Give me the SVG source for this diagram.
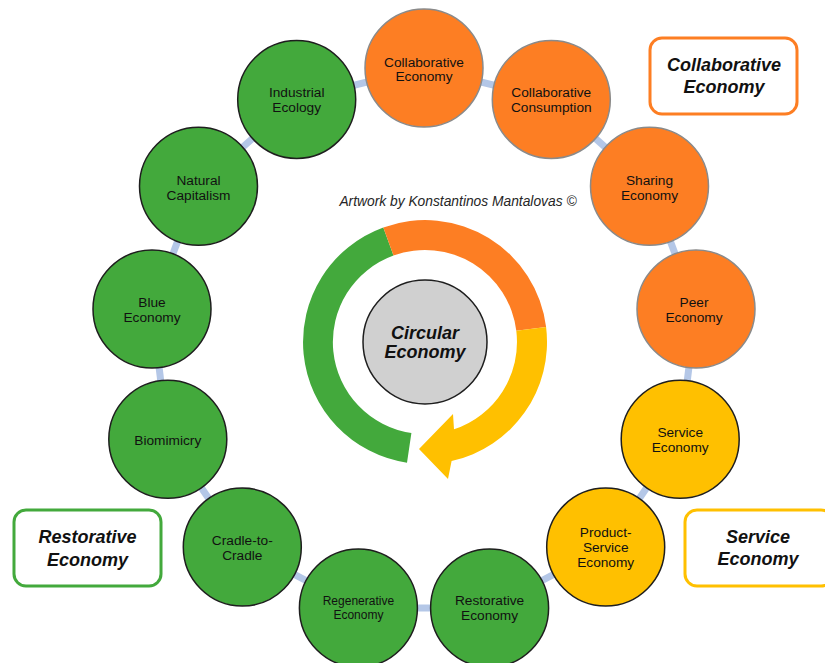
<svg xmlns="http://www.w3.org/2000/svg" width="825" height="663" viewBox="0 0 825 663">
<style>
.bg{fill:#ffffff}
.con line{stroke:#b4c7e7;stroke-width:7}
.g{fill:#43a93c;stroke:#1e1e1e;stroke-width:1.5}
.o{fill:#fd7e23;stroke:#8a8a8a;stroke-width:1.5}
.y{fill:#ffc000;stroke:#1e1e1e;stroke-width:1.5}
.t{font-family:"Liberation Sans",Arial,sans-serif;font-size:13.7px;fill:#111;text-anchor:middle}
.s{font-size:12px}
.lg{font-family:"Liberation Sans",Arial,sans-serif;font-size:18px;font-weight:bold;font-style:italic;fill:#111;text-anchor:middle}
.box{fill:#fff;stroke-width:3}
</style>
<rect class="bg" x="0" y="0" width="825" height="663"/>
<g id="connectors" class="con">
<line x1="424" y1="68" x2="551.3" y2="99.4"/>
<line x1="551.3" y1="99.4" x2="649.5" y2="186.3"/>
<line x1="649.5" y1="186.3" x2="696" y2="309"/>
<line x1="696" y1="309" x2="680.2" y2="439.2"/>
<line x1="680.2" y1="439.2" x2="605.7" y2="547.1"/>
<line x1="605.7" y1="547.1" x2="489.6" y2="608"/>
<line x1="489.6" y1="608" x2="358.4" y2="608"/>
<line x1="358.4" y1="608" x2="242.3" y2="547.1"/>
<line x1="242.3" y1="547.1" x2="167.8" y2="439.2"/>
<line x1="167.8" y1="439.2" x2="152" y2="309"/>
<line x1="152" y1="309" x2="198.5" y2="186.3"/>
<line x1="198.5" y1="186.3" x2="296.7" y2="99.4"/>
<line x1="296.7" y1="99.4" x2="424" y2="68"/>
</g>
<g id="ring">
<path fill="#43a93c" d="M 407 462.7 A 122 122 0 0 1 383.3 227.4 L 393.5 255.5 A 92 92 0 0 0 411.4 433 Z"/>
<path fill="#fd7e23" d="M 383.3 227.4 A 122 122 0 0 1 546.1 327.1 L 516.3 330.8 A 92 92 0 0 0 393.5 255.5 Z"/>
<path fill="#ffc000" d="M 546.1 327.1 A 122 122 0 0 1 451.6 461.1 L 448 479 L 419 449 L 453 414 L 454 429.3 A 92 92 0 0 0 516.3 330.8 Z"/>
</g>
<g id="center">
<circle cx="425" cy="342" r="62" fill="#d0d0d0" stroke="#1e1e1e" stroke-width="1.5"/>
<text class="lg" x="425" y="339">Circular</text>
<text class="lg" x="425" y="358">Economy</text>
</g>
<g id="credit">
<text x="458" y="206" font-family="'Liberation Sans',Arial,sans-serif" font-size="13.8" font-style="italic" fill="#262626" text-anchor="middle">Artwork by Konstantinos Mantalovas ©</text>
</g>
<g id="n-collaborative-economy"><circle class="o" cx="424" cy="68" r="59"/><text class="t" x="424" y="67">Collaborative</text><text class="t" x="424" y="81">Economy</text></g>
<g id="n-collaborative-consumption"><circle class="o" cx="551.3" cy="99.4" r="59"/><text class="t" x="551.3" y="97">Collaborative</text><text class="t" x="551.3" y="112">Consumption</text></g>
<g id="n-sharing-economy"><circle class="o" cx="649.5" cy="186.3" r="59"/><text class="t" x="649.5" y="185">Sharing</text><text class="t" x="649.5" y="200">Economy</text></g>
<g id="n-peer-economy"><circle class="o" cx="696" cy="309" r="59"/><text class="t" x="694" y="307">Peer</text><text class="t" x="694" y="322">Economy</text></g>
<g id="n-service-economy"><circle class="y" cx="680.2" cy="439.2" r="59"/><text class="t" x="680.2" y="437">Service</text><text class="t" x="680.2" y="452">Economy</text></g>
<g id="n-product-service-economy"><circle class="y" cx="605.7" cy="547.1" r="59"/><text class="t" x="605.7" y="537">Product-</text><text class="t" x="605.7" y="552">Service</text><text class="t" x="605.7" y="567">Economy</text></g>
<g id="n-restorative-economy"><circle class="g" cx="489.6" cy="608" r="59"/><text class="t" x="489.6" y="605">Restorative</text><text class="t" x="489.6" y="620">Economy</text></g>
<g id="n-regenerative-economy"><circle class="g" cx="358.4" cy="608" r="59"/><text class="t s" x="358.4" y="605">Regenerative</text><text class="t s" x="358.4" y="619">Economy</text></g>
<g id="n-cradle-to-cradle"><circle class="g" cx="242.3" cy="547.1" r="59"/><text class="t" x="242.3" y="545">Cradle-to-</text><text class="t" x="242.3" y="560">Cradle</text></g>
<g id="n-biomimicry"><circle class="g" cx="167.8" cy="439.2" r="59"/><text class="t" x="167.8" y="445">Biomimicry</text></g>
<g id="n-blue-economy"><circle class="g" cx="152" cy="309" r="59"/><text class="t" x="152" y="307">Blue</text><text class="t" x="152" y="322">Economy</text></g>
<g id="n-natural-capitalism"><circle class="g" cx="198.5" cy="186.3" r="59"/><text class="t" x="198.5" y="185">Natural</text><text class="t" x="198.5" y="200">Capitalism</text></g>
<g id="n-industrial-ecology"><circle class="g" cx="296.7" cy="99.4" r="59"/><text class="t" x="296.7" y="97">Industrial</text><text class="t" x="296.7" y="112">Ecology</text></g>
<g id="legend-collaborative"><rect class="box" x="650" y="38" width="147" height="76" rx="12" stroke="#fd7e23"/><text class="lg" x="724" y="71">Collaborative</text><text class="lg" x="724" y="93">Economy</text></g>
<g id="legend-restorative"><rect class="box" x="14" y="510" width="147" height="76" rx="12" stroke="#43a93c"/><text class="lg" x="87.5" y="543">Restorative</text><text class="lg" x="87.5" y="566">Economy</text></g>
<g id="legend-service"><rect class="box" x="685" y="510" width="148" height="76" rx="12" stroke="#ffc000"/><text class="lg" x="758" y="543">Service</text><text class="lg" x="758" y="565">Economy</text></g>
</svg>
